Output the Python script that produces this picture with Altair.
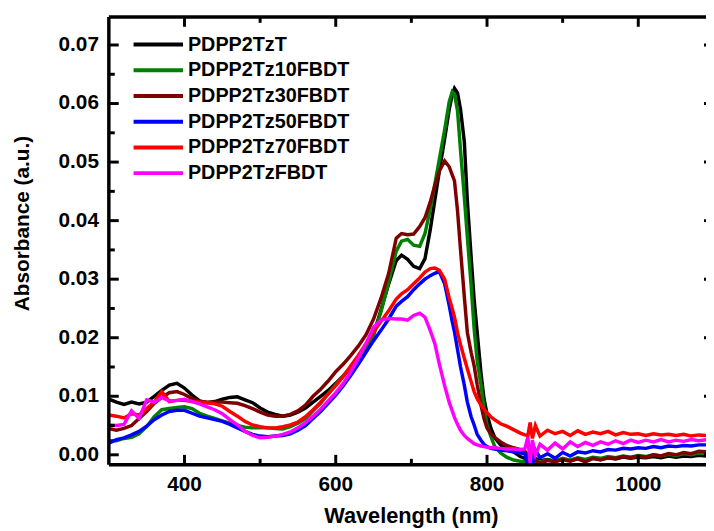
import altair as alt
import pandas as pd

wavelength = [300, 310, 320, 330, 340, 350, 360, 370, 380, 390,
              400, 410, 420, 430, 440, 450, 460, 470, 480, 490,
              500, 510, 520, 530, 540, 550, 560, 570, 580, 590,
              600, 610, 620, 630, 640, 650, 660, 670, 680, 687,
              695, 703, 711, 718, 725, 731, 737, 744, 750, 754,
              757, 761, 765, 770, 774, 779, 783, 787, 792, 796,
              800, 805, 810, 818, 826, 835, 844, 850, 854, 857,
              860, 864, 870, 880, 890, 900, 910, 920, 930, 940,
              950, 960, 970, 980, 990, 1000, 1010, 1020, 1030, 1040,
              1050, 1060, 1070, 1080, 1090]

abs_tzt = [0.0095, 0.0090, 0.0086, 0.0090, 0.0087, 0.0090, 0.0100, 0.0110, 0.0119, 0.0122,
           0.0114, 0.0102, 0.0092, 0.0089, 0.0091, 0.0095, 0.0098, 0.0099, 0.0094, 0.0089,
           0.0080, 0.0073, 0.0069, 0.0066, 0.0068, 0.0073, 0.0080, 0.0090, 0.0100, 0.0110,
           0.0122, 0.0135, 0.0148, 0.0163, 0.0180, 0.0205, 0.0248, 0.0292, 0.0332, 0.0341,
           0.0334, 0.0322, 0.0318, 0.0335, 0.0385, 0.0435, 0.0485, 0.0540, 0.0590, 0.0615,
           0.0626, 0.0618, 0.0590, 0.0535, 0.0434, 0.0338, 0.0265, 0.0209, 0.0140, 0.0096,
           0.0070, 0.0046, 0.0030, 0.0017, 0.0010, 0.0005, -0.0003, -0.0006, -0.0010, -0.0004,
           -0.0012, -0.0006, -0.0010, -0.0008, -0.0011, -0.0007, -0.0010, -0.0006, -0.0009, -0.0006,
           -0.0008, -0.0005, -0.0007, -0.0004, -0.0006, -0.0004, -0.0005, -0.0003, -0.0005, -0.0002,
           -0.0004, -0.0002, -0.0003, -0.0001, -0.0002]

abs_10 = [0.0024, 0.0024, 0.0028, 0.0030, 0.0036, 0.0048, 0.0065, 0.0077, 0.0079, 0.0081,
          0.0082, 0.0079, 0.0071, 0.0066, 0.0062, 0.0058, 0.0054, 0.0050, 0.0047, 0.0046,
          0.0046, 0.0046, 0.0045, 0.0044, 0.0048, 0.0054, 0.0062, 0.0075, 0.0088, 0.0104,
          0.0120, 0.0135, 0.0150, 0.0165, 0.0182, 0.0205, 0.0245, 0.0295, 0.0348, 0.0365,
          0.0368, 0.0358, 0.0356, 0.0378, 0.0420, 0.0462, 0.0505, 0.0555, 0.0603, 0.0620,
          0.0616, 0.0588, 0.0520, 0.0440, 0.0372, 0.0290, 0.0215, 0.0160, 0.0120, 0.0080,
          0.0051, 0.0032, 0.0015, 0.0003, -0.0004, -0.0009, -0.0011, -0.0012, -0.0016, -0.0008,
          -0.0014, -0.0010, -0.0012, -0.0009, -0.0011, -0.0006, -0.0009, -0.0005, -0.0008, -0.0004,
          -0.0006, -0.0003, -0.0005, -0.0002, -0.0004, -0.0001, -0.0003, 0.0000, -0.0002, 0.0001,
          -0.0001, 0.0002, 0.0000, 0.0003, 0.0002]

abs_30 = [0.0045, 0.0042, 0.0045, 0.0050, 0.0062, 0.0074, 0.0088, 0.0098, 0.0106, 0.0108,
          0.0103, 0.0096, 0.0091, 0.0090, 0.0090, 0.0090, 0.0089, 0.0088, 0.0084, 0.0079,
          0.0073, 0.0068, 0.0066, 0.0066, 0.0069, 0.0075, 0.0085, 0.0100, 0.0112, 0.0126,
          0.0142, 0.0155, 0.0170, 0.0186, 0.0205, 0.0232, 0.0268, 0.0310, 0.0370, 0.0378,
          0.0376, 0.0377, 0.0390, 0.0405, 0.0432, 0.0460, 0.0485, 0.0502, 0.0492, 0.0478,
          0.0468, 0.0417, 0.0350, 0.0270, 0.0209, 0.0175, 0.0152, 0.0120, 0.0085, 0.0062,
          0.0046, 0.0036, 0.0030, 0.0022, 0.0016, 0.0012, 0.0009, 0.0006, 0.0000, -0.0015,
          0.0003, -0.0010, -0.0014, -0.0010, -0.0012, -0.0008, -0.0011, -0.0007, -0.0012, -0.0006,
          -0.0009, -0.0005, -0.0006, -0.0003, -0.0005, -0.0002, -0.0004, 0.0000, -0.0002, 0.0002,
          0.0000, 0.0004, 0.0002, 0.0006, 0.0005]

abs_50 = [0.0020, 0.0026, 0.0029, 0.0034, 0.0040, 0.0049, 0.0060, 0.0068, 0.0074, 0.0076,
          0.0076, 0.0071, 0.0066, 0.0063, 0.0060, 0.0057, 0.0052, 0.0046, 0.0040, 0.0035,
          0.0032, 0.0031, 0.0032, 0.0033, 0.0036, 0.0042, 0.0050, 0.0062, 0.0074, 0.0088,
          0.0102, 0.0118, 0.0136, 0.0155, 0.0175, 0.0195, 0.0213, 0.0232, 0.0254, 0.0262,
          0.0270, 0.0282, 0.0292, 0.0300, 0.0306, 0.0310, 0.0313, 0.0292, 0.0255, 0.0228,
          0.0210, 0.0180, 0.0150, 0.0119, 0.0090, 0.0065, 0.0051, 0.0035, 0.0025, 0.0018,
          0.0014, 0.0011, 0.0010, 0.0008, 0.0007, 0.0005, 0.0003, 0.0002, -0.0020, 0.0010,
          -0.0018, 0.0008, -0.0005, 0.0002, -0.0006, 0.0004, -0.0002, 0.0005, 0.0003, 0.0007,
          0.0005, 0.0009, 0.0008, 0.0011, 0.0010, 0.0012, 0.0011, 0.0014, 0.0012, 0.0015,
          0.0014, 0.0016, 0.0015, 0.0017, 0.0017]

abs_70 = [0.0068, 0.0066, 0.0063, 0.0070, 0.0068, 0.0079, 0.0090, 0.0108, 0.0091, 0.0093,
          0.0093, 0.0091, 0.0090, 0.0089, 0.0087, 0.0083, 0.0074, 0.0066, 0.0057, 0.0051,
          0.0048, 0.0046, 0.0046, 0.0048, 0.0051, 0.0056, 0.0065, 0.0077, 0.0090, 0.0104,
          0.0118, 0.0134, 0.0152, 0.0170, 0.0190, 0.0210, 0.0228, 0.0246, 0.0266, 0.0275,
          0.0282, 0.0292, 0.0302, 0.0312, 0.0318, 0.0319, 0.0315, 0.0300, 0.0268, 0.0250,
          0.0235, 0.0209, 0.0188, 0.0165, 0.0147, 0.0125, 0.0108, 0.0096, 0.0085, 0.0078,
          0.0072, 0.0065, 0.0060, 0.0053, 0.0049, 0.0043, 0.0037, 0.0034, 0.0033, 0.0055,
          0.0028, 0.0050, 0.0032, 0.0042, 0.0036, 0.0040, 0.0033, 0.0041, 0.0035, 0.0039,
          0.0036, 0.0040, 0.0034, 0.0038, 0.0035, 0.0036, 0.0033, 0.0036, 0.0034, 0.0035,
          0.0033, 0.0035, 0.0032, 0.0034, 0.0033]

abs_fbdt = [0.0051, 0.0050, 0.0052, 0.0075, 0.0062, 0.0094, 0.0090, 0.0098, 0.0092, 0.0093,
            0.0095, 0.0091, 0.0087, 0.0082, 0.0077, 0.0070, 0.0060, 0.0051, 0.0040, 0.0033,
            0.0029, 0.0030, 0.0032, 0.0035, 0.0039, 0.0046, 0.0055, 0.0066, 0.0078, 0.0092,
            0.0106, 0.0122, 0.0142, 0.0165, 0.0190, 0.0218, 0.0230, 0.0233, 0.0232, 0.0232,
            0.0230, 0.0238, 0.0242, 0.0235, 0.0212, 0.0190, 0.0155, 0.0118, 0.0090, 0.0075,
            0.0064, 0.0052, 0.0042, 0.0033, 0.0028, 0.0023, 0.0019, 0.0017, 0.0015, 0.0014,
            0.0013, 0.0012, 0.0012, 0.0011, 0.0010, 0.0010, 0.0009, 0.0010, 0.0030, -0.0015,
            0.0025, 0.0000, 0.0018, 0.0008, 0.0020, 0.0010, 0.0022, 0.0014, 0.0021, 0.0016,
            0.0022, 0.0018, 0.0024, 0.0019, 0.0025, 0.0021, 0.0025, 0.0022, 0.0026, 0.0022,
            0.0025, 0.0023, 0.0026, 0.0024, 0.0026]

series_names = ["PDPP2TzT", "PDPP2Tz10FBDT", "PDPP2Tz30FBDT",
                "PDPP2Tz50FBDT", "PDPP2Tz70FBDT", "PDPP2TzFBDT"]
series_colors = ["#000000", "#008000", "#800000", "#0000FF", "#FF0000", "#FF00FF"]
series_values = [abs_tzt, abs_10, abs_30, abs_50, abs_70, abs_fbdt]

x_domain = [300, 1100]
y_domain = [-0.0017, 0.0748]
x_label_values = [400, 600, 800, 1000]
x_label_texts = ["400", "600", "800", "1000"]
x_minor_ticks = [500, 700, 900]
y_label_values = [0.0, 0.01, 0.02, 0.03, 0.04, 0.05, 0.06, 0.07]
y_label_texts = ["0.00", "0.01", "0.02", "0.03", "0.04", "0.05", "0.06", "0.07"]
y_minor_ticks = [0.005, 0.015, 0.025, 0.035, 0.045, 0.055, 0.065]
x_title = "Wavelength (nm)"
y_title = "Absorbance (a.u.)"

records = []
for name, vals in zip(series_names, series_values):
    assert len(vals) == len(wavelength), name
    for w, a in zip(wavelength, vals):
        records.append({"Wavelength": w, "Absorbance": a, "Sample": name})
df = pd.DataFrame(records)

W, H = 612, 453
FONT = "Liberation Sans"
MAJOR, MINOR = 10, 6
TICK_W = 3
FRAME_W = 3.5

xs = alt.Scale(domain=x_domain, nice=False, zero=False)
ys = alt.Scale(domain=y_domain, nice=False, zero=False)

lines = alt.Chart(df).mark_line(strokeWidth=3.5, clip=True).encode(
    x=alt.X("Wavelength:Q", scale=xs, axis=None),
    y=alt.Y("Absorbance:Q", scale=ys, axis=None),
    color=alt.Color("Sample:N",
                    scale=alt.Scale(domain=series_names, range=series_colors),
                    legend=alt.Legend(title=None, orient="none", legendX=40, legendY=18,
                                      symbolType="M-5,0H5", symbolSize=100,
                                      symbolStrokeWidth=4, symbolOpacity=1,
                                      labelFont=FONT, labelFontSize=20,
                                      labelFontWeight="bold", labelColor="black",
                                      labelOffset=20, labelLimit=0,
                                      rowPadding=6, padding=0)),
)


def x_ticks(values, at_bottom, length):
    """Inward tick marks along the bottom or top frame edge at the given wavelengths."""
    tdf = pd.DataFrame({"Wavelength": values})
    y0 = H if at_bottom else 0
    y1 = H - length if at_bottom else length
    return alt.Chart(tdf).mark_rule(color="black", strokeWidth=TICK_W).encode(
        x=alt.X("Wavelength:Q", scale=xs, axis=None),
        y=alt.value(y0), y2=alt.value(y1),
    )


def y_ticks(values, at_left, length):
    """Inward tick marks along the left or right frame edge at the given absorbances."""
    tdf = pd.DataFrame({"Absorbance": values})
    x0 = 0 if at_left else W
    x1 = length if at_left else W - length
    return alt.Chart(tdf).mark_rule(color="black", strokeWidth=TICK_W).encode(
        y=alt.Y("Absorbance:Q", scale=ys, axis=None),
        x=alt.value(x0), x2=alt.value(x1),
    )


def frame(name, **enc):
    return alt.Chart(pd.DataFrame({"edge": [name]})).mark_rule(
        color="black", strokeWidth=FRAME_W
    ).encode(**enc)


frames = [
    frame("top", x=alt.value(0), x2=alt.value(W), y=alt.value(0)),
    frame("bottom", x=alt.value(0), x2=alt.value(W), y=alt.value(H)),
    frame("left", x=alt.value(0), y=alt.value(0), y2=alt.value(H)),
    frame("right", x=alt.value(W), y=alt.value(0), y2=alt.value(H)),
]

x_labels = alt.Chart(pd.DataFrame({"Wavelength": x_label_values, "label": x_label_texts})).mark_text(
    font=FONT, fontSize=21, fontWeight="bold", color="black",
    align="center", baseline="top",
).encode(x=alt.X("Wavelength:Q", scale=xs, axis=None), y=alt.value(H + 10), text="label:N")

y_labels = alt.Chart(pd.DataFrame({"Absorbance": y_label_values, "label": y_label_texts})).mark_text(
    font=FONT, fontSize=21, fontWeight="bold", color="black",
    align="right", baseline="middle",
).encode(y=alt.Y("Absorbance:Q", scale=ys, axis=None), x=alt.value(-10), text="label:N")

x_title_mark = alt.Chart(pd.DataFrame({"title": [x_title]})).mark_text(
    font=FONT, fontSize=22, fontWeight="bold", color="black",
    align="center", baseline="alphabetic",
).encode(x=alt.value(W / 2), y=alt.value(H + 59), text="title:N")

y_title_mark = alt.Chart(pd.DataFrame({"title": [y_title]})).mark_text(
    font=FONT, fontSize=21, fontWeight="bold", color="black",
    align="center", baseline="alphabetic", angle=270,
).encode(x=alt.value(-81), y=alt.value(209), text="title:N")

chart = alt.layer(
    lines,
    *frames,
    x_ticks(x_label_values, True, MAJOR), x_ticks(x_minor_ticks, True, MINOR),
    x_ticks(x_label_values, False, MAJOR), x_ticks(x_minor_ticks, False, MINOR),
    y_ticks(y_label_values, True, MAJOR), y_ticks(y_minor_ticks, True, MINOR),
    y_ticks(y_label_values, False, MAJOR), y_ticks(y_minor_ticks, False, MINOR),
    x_labels, y_labels, x_title_mark, y_title_mark,
).properties(
    width=W, height=H,
    padding={"left": 102, "top": 6, "right": -8, "bottom": 64},
    autosize=alt.AutoSizeParams(type="none"),
    background="white",
).configure_view(stroke="transparent")

chart.save("out.html", embed_options={"renderer": "svg", "actions": False})
